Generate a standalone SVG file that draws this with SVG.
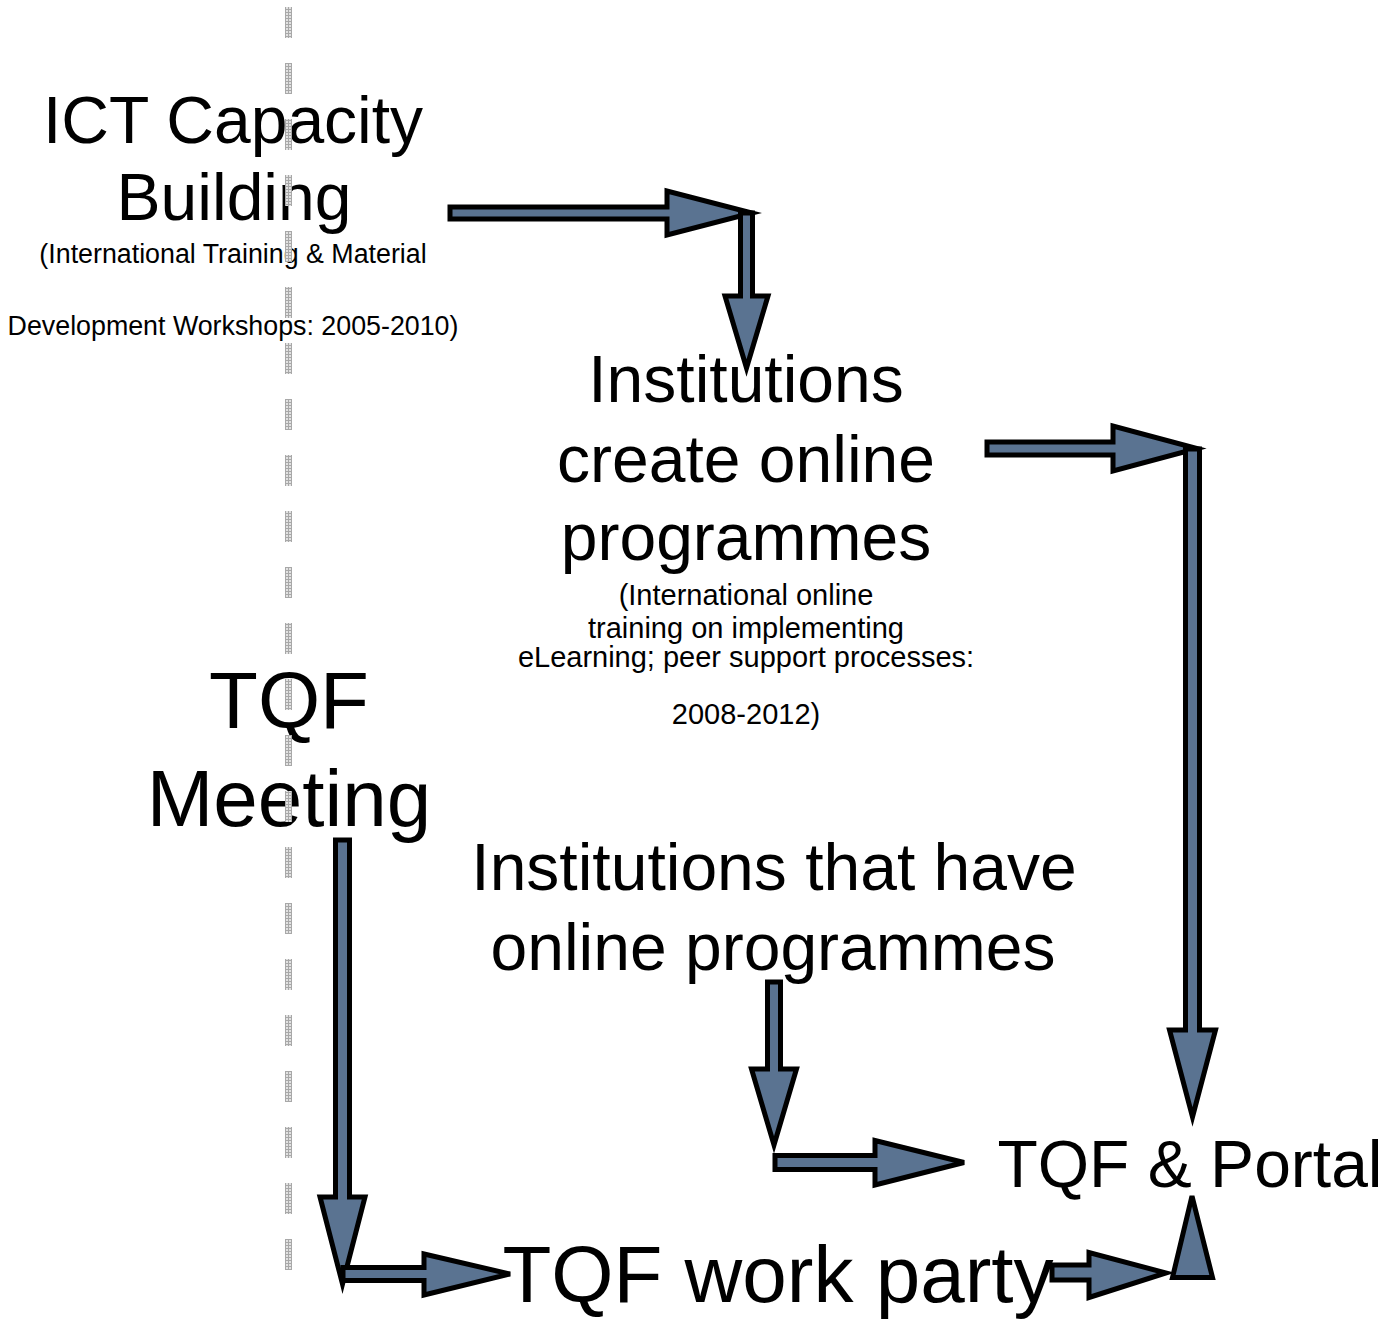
<svg xmlns="http://www.w3.org/2000/svg" width="1391" height="1320" viewBox="0 0 1391 1320">
<defs>
<pattern id="grid" patternUnits="userSpaceOnUse" width="3" height="3">
<rect width="3" height="3" fill="#e2e2e2"/>
<rect width="3" height="1" fill="#a8a8a8"/>
<rect width="1" height="3" fill="#a8a8a8"/>
</pattern>
<style>
.t{font-family:"Liberation Sans",Arial,sans-serif;fill:#000;text-anchor:middle}
.big{font-size:66px}
.huge{font-size:80px}
.sm{font-size:26.8px}
.sm2{font-size:29px}
.arr{fill:#5a7391;stroke:#000;stroke-width:5;stroke-linejoin:miter}
</style>
</defs>
<rect width="1391" height="1320" fill="#fff"/>

<g id="node-ict">
<text class="t big" x="233" y="143">ICT Capacity</text>
<text class="t big" x="234" y="220">Building</text>
<text class="t sm" x="233" y="263">(International Training &amp; Material</text>
<text class="t sm" x="233" y="335">Development Workshops: 2005-2010)</text>
</g>

<g id="node-institutions">
<text class="t big" x="746" y="402">Institutions</text>
<text class="t big" x="746" y="482">create online</text>
<text class="t big" x="746" y="560">programmes</text>
<text class="t sm2" x="746" y="605">(International online</text>
<text class="t sm2" x="746" y="638">training on implementing</text>
<text class="t sm2" x="746" y="667">eLearning; peer support processes:</text>
<text class="t sm2" x="746" y="724">2008-2012)</text>
</g>

<g id="node-tqf-meeting">
<text class="t huge" x="289" y="728">TQF</text>
<text class="t huge" x="289" y="826">Meeting</text>
</g>

<g id="node-have-online">
<text class="t big" x="774" y="890">Institutions that have</text>
<text class="t big" x="773" y="970">online programmes</text>
</g>

<g id="node-portal">
<text class="t big" x="1190" y="1187">TQF &amp; Portal</text>
</g>

<g id="node-workparty">
<text class="t huge" x="778" y="1302">TQF work party</text>
</g>

<g id="connectors">
<polygon class="arr" points="450,207 667,207 667,191 752,213 667,235 667,219 450,219"/>
<polygon class="arr" points="740.5,213 752.5,213 752.5,296 768,296 746.5,368 725,296 740.5,296"/>

<polygon class="arr" points="987,442 1113,442 1113,426 1197,448.5 1113,471 1113,455 987,455"/>
<polygon class="arr" points="1185.5,449 1199.5,449 1199.5,1030 1215.5,1030 1192.5,1117 1169.5,1030 1185.5,1030"/>

<polygon class="arr" points="335.5,840 349.5,840 349.5,1197 365,1197 342.5,1284 320,1197 335.5,1197"/>
<polygon class="arr" points="343,1267.5 424,1267.5 424,1254 510,1274 424,1295 424,1280.5 343,1280.5"/>

<polygon class="arr" points="767.5,982 780.5,982 780.5,1069 796.5,1069 774,1145 751.5,1069 767.5,1069"/>
<polygon class="arr" points="775,1155.5 875,1155.5 875,1140.5 964,1162.5 875,1185 875,1169.5 775,1169.5"/>

<polygon class="arr" points="1052,1265 1089,1265 1089,1252.5 1166,1273 1089,1297.5 1089,1280 1052,1280"/>
<polygon class="arr" points="1172.5,1277.5 1192,1196 1212.5,1277.5"/>
</g>

<g id="divider">
<line x1="288.5" y1="7" x2="288.5" y2="1271" stroke="url(#grid)" stroke-width="7" stroke-dasharray="31 25"/>
</g>
</svg>
